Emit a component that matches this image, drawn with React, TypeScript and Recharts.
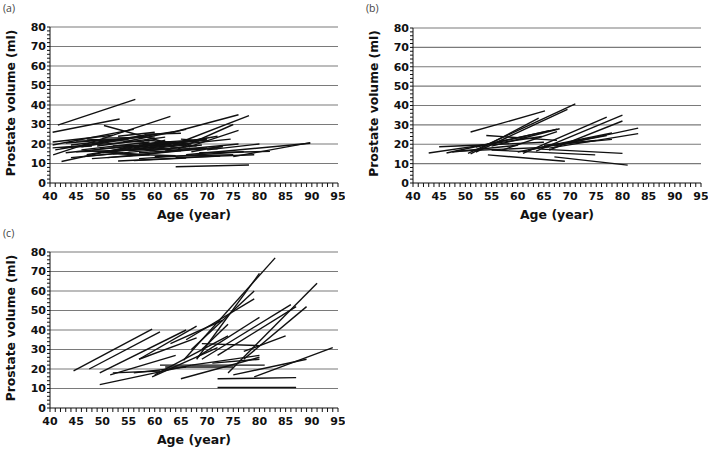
import React from "react";
import { LineChart, Line, XAxis, YAxis, ReferenceLine } from "recharts";

// ---------- Panel (a) segments: first and second measurement ----------
const aStartAge = [41.5, 40.5, 50.3, 40.6, 63.5, 64, 64.5, 66.5, 64, 75, 66, 68.5, 42.2, 40.5, 40.5, 53, 57, 63.5, 46.5, 49.5, 40.5, 41, 43, 44, 45, 46, 47, 48, 50, 51, 52, 53, 54, 55, 56, 57, 58, 59, 60, 61, 62, 42, 44, 45, 48, 50, 52, 55, 58, 60, 63, 65, 47, 53, 64, 56, 70, 67, 43, 46, 49, 51, 54, 57, 59, 61, 48, 55];
const aStartVol = [29.7, 26, 29.5, 14.4, 26, 20, 17.5, 18.5, 8.3, 13.5, 14.5, 15.5, 11, 19.5, 21, 11.3, 12.5, 19.5, 13.5, 17.5, 18, 17, 15.5, 19.5, 16, 18.5, 14.5, 20, 15.5, 13, 19, 17, 21, 14, 18, 15.5, 22, 18.5, 13.5, 19, 16.5, 18, 13, 21.5, 16.5, 23, 15, 19.5, 25, 21, 18, 22.5, 22.5, 24, 13, 11.5, 17, 16, 20.5, 17, 19, 16, 18, 20, 16.5, 20.5, 12.5, 16.5];
const aEndAge = [56.3, 53.3, 62.5, 63, 76, 78, 75, 76, 78, 89.7, 89.7, 82, 55, 56, 52, 72.5, 77, 74.5, 66, 68.5, 60, 58, 63, 52, 62, 60, 57, 64, 66, 70, 63, 70, 66, 73, 62, 69, 67, 70, 75, 72, 76, 48, 54, 55, 58, 60, 64, 65, 65, 68, 72, 70, 58, 60, 79, 66, 80, 73, 55, 59, 62, 61, 64, 67, 69, 70, 59, 66];
const aEndVol = [42.9, 32.8, 20.5, 34.2, 35, 34.6, 30, 27, 9.2, 20.7, 20.4, 16.2, 18.5, 27.5, 24.5, 13.8, 16, 22.5, 18.5, 21.5, 22, 24.5, 21, 22, 17.5, 25, 19, 26.5, 20, 18, 19.5, 22.5, 27.5, 18.5, 22, 17.5, 20, 23, 14.5, 24, 20, 19, 15.5, 22.5, 14.5, 23.5, 14, 16.5, 25.5, 19, 17.5, 21.5, 21, 26, 14.5, 12.8, 20, 19, 23, 21, 23.5, 19, 21, 22, 19.5, 22, 14.5, 19.5];

// ---------- Panel (b) segments ----------
const bStartAge = [51, 51, 50.5, 52, 43, 45, 46.4, 54, 54.3, 55, 61, 63.5, 66, 67, 66, 60, 62, 67, 64.5, 49, 47.5, 52, 57, 55, 65, 68];
const bStartVol = [26.3, 15, 15.3, 16, 15.5, 18.7, 15.5, 24.5, 14.5, 17, 15.3, 16.5, 17, 19, 18, 16, 17, 13.5, 17.5, 16.5, 16, 18.5, 17, 19, 19.5, 20];
const bEndAge = [65.2, 64, 71, 69.5, 64.6, 65, 67.5, 67.5, 69, 74.8, 77, 80, 80, 83, 83, 78, 77, 81, 80, 66, 60, 66, 67.5, 68, 75, 78];
const bEndVol = [37.2, 33.5, 40.8, 38, 24, 21, 27.8, 22, 11.2, 14.5, 34, 35, 32, 28.3, 25.5, 25.8, 24.5, 9.2, 15.3, 18.5, 19.5, 27, 26.5, 28, 22, 22.5];

// ---------- Panel (c) segments ----------
const cStartAge = [44.5, 47.5, 49.5, 49.5, 51.5, 52, 56, 57, 57, 59.5, 60, 61, 62, 65, 65.5, 68, 67, 66, 63, 69, 68, 69, 72, 74, 77, 77, 69, 71, 67, 79, 75, 72, 72];
const cStartVol = [19, 20, 18, 12, 17, 18, 18, 25, 25, 16, 17, 22, 21, 15, 24.5, 25, 30, 35, 33, 30, 26, 25, 27, 18, 25, 29, 33, 23, 22, 16, 17, 15, 10.5];
const cEndAge = [59.5, 61, 66, 67, 64, 61, 66, 68, 68, 72, 74, 81, 75, 80, 83, 80, 79, 79, 73, 74, 80, 86, 87, 91, 89, 85, 80, 80, 80, 94, 89, 87, 87];
const cEndVol = [40.5, 39, 40, 22, 27, 19, 21, 36, 42, 31, 37, 22, 21, 26, 77, 69, 60, 56, 45, 43, 46.5, 53, 52, 64, 52, 37, 32, 25, 27, 31, 25, 15.6, 10.5];

// ---------- Axes ----------
const ageLabels = [40, 45, 50, 55, 60, 65, 70, 75, 80, 85, 90, 95];
const volLabels = [0, 10, 20, 30, 40, 50, 60, 70, 80];
const gridVols = [10, 20, 30, 40, 50, 60, 70, 80];
const ageTicks: number[] = [];
for (let a = 40; a <= 95; a++) ageTicks.push(a);
const volTicks: number[] = [];
for (let v = 0; v <= 80; v += 2) volTicks.push(v);

const panelNames = ["(a)", "(b)", "(c)"];
const yTitle = "Prostate volume (ml)";
const xTitle = "Age (year)";

const tickFont = { fontFamily: "DejaVu Sans", fontWeight: 700, fontSize: 11, fill: "#111" };

function buildSegments(sa: number[], sv: number[], ea: number[], ev: number[]) {
  return sa.map((x, i) => [
    { age: x, vol: sv[i] },
    { age: ea[i], vol: ev[i] },
  ]);
}

type PanelProps = {
  name: string;
  left: number;
  top: number;
  height: number;
  marginTop: number;
  xAxisHeight: number;
  segments: { age: number; vol: number }[][];
};

function Panel({ name, left, top, height, marginTop, xAxisHeight, segments }: PanelProps) {
  const width = 345;
  const plotLeft = 50;
  const plotRight = width - 7;
  const plotBottom = height - xAxisHeight;
  const plotMidY = (marginTop + plotBottom) / 2 - 2;
  const plotMidX = (plotLeft + plotRight) / 2;
  return (
    <div style={{ position: "absolute", left, top, width, height }}>
      <LineChart
        width={width}
        height={height}
        margin={{ top: marginTop, right: 7, left: 0, bottom: 0 }}
      >
        <XAxis
          dataKey="age"
          type="number"
          domain={[40, 95]}
          ticks={ageTicks}
          interval={0}
          allowDataOverflow
          height={xAxisHeight}
          tickSize={4}
          tickMargin={5}
          tickLine={{ stroke: "#111" }}
          axisLine={{ stroke: "#111" }}
          tick={tickFont}
          tickFormatter={(v: number) => (ageLabels.includes(v) ? String(v) : "")}
          label={{
            content: () => (
              <text
                x={plotMidX}
                y={plotBottom + 31}
                textAnchor="middle"
                dominantBaseline="central"
                style={{ fontFamily: "DejaVu Sans", fontWeight: 700, fontSize: 12.5, fill: "#111" }}
              >
                {xTitle}
              </text>
            ),
          }}
        />
        <YAxis
          dataKey="vol"
          type="number"
          domain={[0, 80]}
          ticks={volTicks}
          interval={0}
          allowDataOverflow
          width={50}
          tickSize={3}
          tickMargin={1}
          tickLine={{ stroke: "#111" }}
          axisLine={{ stroke: "#111" }}
          tick={tickFont}
          tickFormatter={(v: number) => (volLabels.includes(v) ? String(v) : "")}
          label={{
            content: () => (
              <text
                x={11}
                y={plotMidY}
                transform={`rotate(-90 11 ${plotMidY})`}
                textAnchor="middle"
                dominantBaseline="central"
                style={{ fontFamily: "DejaVu Sans", fontWeight: 700, fontSize: 12.3, fill: "#111" }}
              >
                {yTitle}
              </text>
            ),
          }}
        />
        {gridVols.map((v) => (
          <ReferenceLine key={`g${v}`} y={v} stroke="#7a7a7a" strokeWidth={1.1} ifOverflow="extendDomain" />
        ))}
        {segments.map((seg, i) => (
          <Line
            key={`s${i}`}
            data={seg}
            dataKey="vol"
            stroke="#111"
            strokeWidth={1.4}
            dot={false}
            activeDot={false}
            isAnimationActive={false}
            type="linear"
          />
        ))}
      </LineChart>
      <div
        style={{
          position: "absolute",
          left: 3,
          top: 1,
          fontFamily: "Open Sans",
          fontSize: 10.5,
          color: "#444",
        }}
      >
        {name}
      </div>
    </div>
  );
}

export default function App() {
  const segA = buildSegments(aStartAge, aStartVol, aEndAge, aEndVol);
  const segB = buildSegments(bStartAge, bStartVol, bEndAge, bEndVol);
  const segC = buildSegments(cStartAge, cStartVol, cEndAge, cEndVol);
  return (
    <div style={{ position: "absolute", left: 0, top: 0, width: 709, height: 452, background: "#fff" }}>
      <Panel name={panelNames[0]} left={0} top={0} height={225} marginTop={27} xAxisHeight={42} segments={segA} />
      <Panel name={panelNames[1]} left={363} top={0} height={225} marginTop={28} xAxisHeight={42} segments={segB} />
      <Panel name={panelNames[2]} left={0} top={225} height={227} marginTop={27} xAxisHeight={44} segments={segC} />
    </div>
  );
}
